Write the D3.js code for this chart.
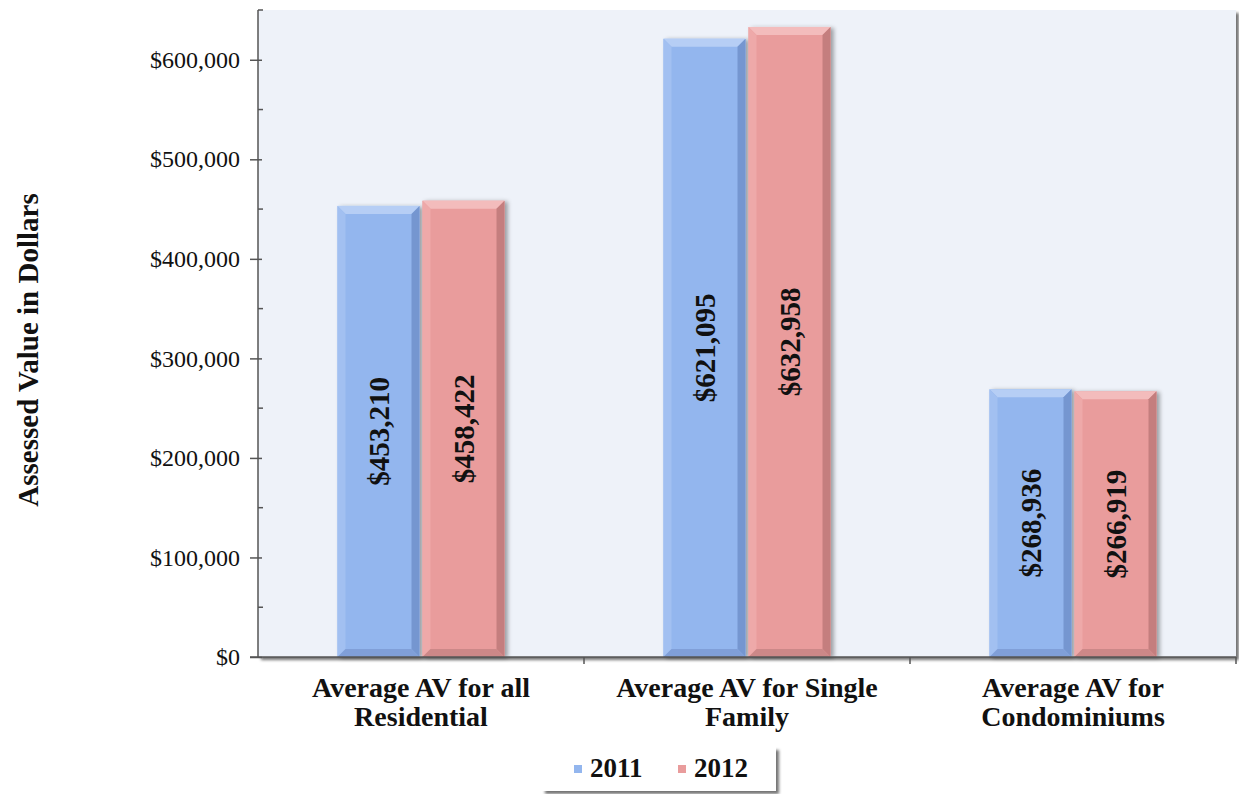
<!DOCTYPE html>
<html>
<head>
<meta charset="utf-8">
<script src="https://cdn.jsdelivr.net/npm/d3@7/dist/d3.min.js"></script>
<style>
  html, body { margin: 0; padding: 0; background: #ffffff; }
  svg { display: block; }
</style>
</head>
<body>
<svg id="chart" width="1239" height="794"></svg>
<script>
// Average assessed values by property type, 2011 vs 2012
const categories = [
  ["Average AV for all", "Residential"],
  ["Average AV for Single", "Family"],
  ["Average AV for", "Condominiums"]
];
const seriesNames = ["2011", "2012"];
const values2011 = [453210, 621095, 268936];
const values2012 = [458422, 632958, 266919];
const yTicks = [0, 100000, 200000, 300000, 400000, 500000, 600000];
const yMinorTicks = [50000, 150000, 250000, 350000, 450000, 550000, 650000];

const series = [values2011, values2012];
const palette = {
  "2011": { face: "#93b6ee", top: "#b6cef5", left: "#a2c0f1", right: "#7596d0", bottom: "#809fd8" },
  "2012": { face: "#e99c9c", top: "#f3bcbc", left: "#eea9a9", right: "#c47e7e", bottom: "#cc8888" }
};
const serif = "'Liberation Serif', 'Times New Roman', serif";

const svg = d3.select("#chart");
const pL = 258, pR = 1236, pT = 10, pB = 657;

const defs = svg.append("defs");
const sh = defs.append("filter").attr("id", "barShadow")
  .attr("x", "-20%").attr("y", "-10%").attr("width", "150%").attr("height", "130%");
sh.append("feDropShadow").attr("dx", 3).attr("dy", 1).attr("stdDeviation", 2)
  .attr("flood-color", "#000").attr("flood-opacity", 0.35);
const boxSh = defs.append("filter").attr("id", "boxShadow")
  .attr("x", "-5%").attr("y", "-5%").attr("width", "112%").attr("height", "140%");
boxSh.append("feDropShadow").attr("dx", 3).attr("dy", 3).attr("stdDeviation", 1.5)
  .attr("flood-color", "#000").attr("flood-opacity", 0.55);

const x0 = d3.scaleBand().domain(d3.range(categories.length)).range([pL, pR]).paddingInner(0).paddingOuter(0);
const x1 = d3.scaleBand().domain(seriesNames).range([0, x0.bandwidth()]).paddingInner(0.035).paddingOuter(0.935);
const y = d3.scaleLinear().domain([0, 650000]).range([pB, pT]);

// plot area with shadow on right and bottom
svg.append("rect")
  .attr("x", pL).attr("y", pT).attr("width", pR - pL).attr("height", pB - pT)
  .attr("fill", "#eef2f9").attr("filter", "url(#boxShadow)");

// bars
const groups = svg.append("g").selectAll("g")
  .data(categories.map((c, i) => i))
  .join("g")
  .attr("transform", i => `translate(${x0(i)},0)`);

const bev = 8;
groups.each(function(i) {
  const g = d3.select(this);
  seriesNames.forEach((s, k) => {
    const v = series[k][i];
    const bx = x1(s), bw = x1.bandwidth();
    const by = y(v), bh = y(0) - y(v);
    const c = palette[s];
    const bar = g.append("g").attr("filter", "url(#barShadow)");
    bar.append("rect").attr("x", bx).attr("y", by).attr("width", bw).attr("height", bh).attr("fill", c.face);
    const x2 = bx + bw, y2 = by + bh;
    bar.append("polygon").attr("fill", c.top)
      .attr("points", [[bx, by], [x2, by], [x2 - bev, by + bev], [bx + bev, by + bev]].join(" "));
    bar.append("polygon").attr("fill", c.left)
      .attr("points", [[bx, by], [bx + bev, by + bev], [bx + bev, y2 - bev], [bx, y2]].join(" "));
    bar.append("polygon").attr("fill", c.right)
      .attr("points", [[x2, by], [x2, y2], [x2 - bev, y2 - bev], [x2 - bev, by + bev]].join(" "));
    bar.append("polygon").attr("fill", c.bottom)
      .attr("points", [[bx, y2], [bx + bev, y2 - bev], [x2 - bev, y2 - bev], [x2, y2]].join(" "));
    // value label, rotated, centred in the bar
    const cx = bx + bw / 2, cy = by + bh / 2;
    g.append("text")
      .attr("transform", `translate(${cx},${cy}) rotate(-90)`)
      .attr("text-anchor", "middle").attr("dy", "0.35em")
      .attr("font-family", serif)
      .attr("font-weight", "bold").attr("font-size", 29).attr("fill", "#111")
      .text(d3.format("$,")(v));
  });
});

// y axis
const yAxis = d3.axisLeft(y).tickValues(yTicks).tickFormat(d3.format("$,")).tickSize(8).tickPadding(10);
const ya = svg.append("g").attr("transform", `translate(${pL},0)`).call(yAxis);
ya.select(".domain").remove();
ya.selectAll(".tick line").attr("x2", -8).attr("x1", 4).attr("stroke", "#555").attr("stroke-width", 1.5);
ya.selectAll(".tick text")
  .attr("font-family", serif)
  .attr("font-size", 24).attr("fill", "#111");
svg.append("line").attr("x1", pL).attr("x2", pL).attr("y1", pT).attr("y2", pB)
  .attr("stroke", "#555").attr("stroke-width", 1.5);
svg.append("g").selectAll("line").data(yMinorTicks).join("line")
  .attr("x1", pL).attr("x2", pL + 5).attr("y1", d => y(d)).attr("y2", d => y(d))
  .attr("stroke", "#555").attr("stroke-width", 1.5);

// x axis
svg.append("line").attr("x1", pL - 8).attr("x2", pR).attr("y1", pB).attr("y2", pB)
  .attr("stroke", "#555").attr("stroke-width", 1.5);
svg.append("g").selectAll("line").data(d3.range(1, categories.length + 1)).join("line")
  .attr("x1", i => x0(0) + i * x0.bandwidth()).attr("x2", i => x0(0) + i * x0.bandwidth())
  .attr("y1", pB).attr("y2", pB + 7)
  .attr("stroke", "#555").attr("stroke-width", 1.5);

// category labels
const cat = svg.append("g").selectAll("text").data(categories).join("text")
  .attr("x", (d, i) => x0(i) + x0.bandwidth() / 2)
  .attr("y", 697)
  .attr("text-anchor", "middle")
  .attr("font-family", serif)
  .attr("font-weight", "bold").attr("font-size", 28).attr("fill", "#111");
cat.selectAll("tspan").data(d => d).join("tspan")
  .attr("x", function() { return d3.select(this.parentNode).attr("x"); })
  .attr("dy", (d, j) => j === 0 ? 0 : 29)
  .text(d => d);

// y axis title
svg.append("text")
  .attr("transform", "translate(28,350) rotate(-90)")
  .attr("text-anchor", "middle").attr("dy", "0.35em")
  .attr("font-family", serif)
  .attr("font-weight", "bold").attr("font-size", 29).attr("fill", "#111")
  .text("Assessed Value in Dollars");

// legend
const lg = svg.append("g");
lg.append("rect").attr("x", 542).attr("y", 747).attr("width", 234).attr("height", 44)
  .attr("fill", "#ffffff").attr("filter", "url(#boxShadow)");
const lx = d3.scaleOrdinal().domain(seriesNames).range([574, 678]);
seriesNames.forEach(s => {
  lg.append("rect").attr("x", lx(s)).attr("y", 765).attr("width", 8).attr("height", 8)
    .attr("fill", palette[s].face);
  lg.append("text").attr("x", lx(s) + 16).attr("y", 777)
    .attr("font-family", serif)
    .attr("font-weight", "bold").attr("font-size", 27).attr("fill", "#111")
    .text(s);
});
</script>
</body>
</html>
